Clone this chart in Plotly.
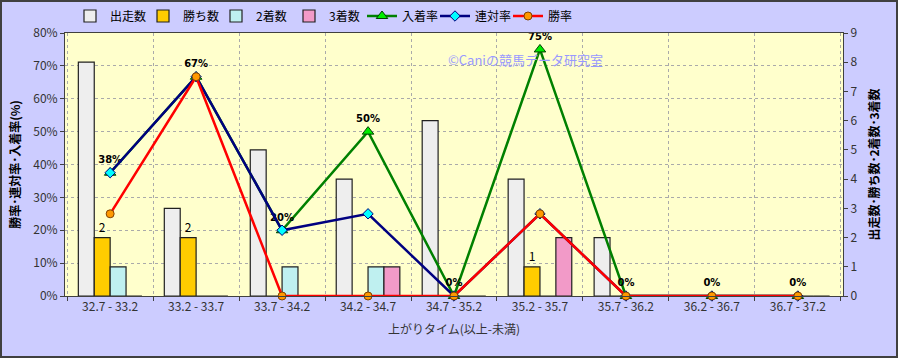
import plotly.graph_objects as go

categories = ["32.7 - 33.2", "33.2 - 33.7", "33.7 - 34.2", "34.2 - 34.7", "34.7 - 35.2",
              "35.2 - 35.7", "35.7 - 36.2", "36.2 - 36.7", "36.7 - 37.2"]
runs = [8, 3, 5, 4, 6, 4, 2, 0, 0]
wins = [2, 2, 0, 0, 0, 1, 0, 0, 0]
seconds = [1, 0, 1, 1, 0, 0, 0, 0, 0]
thirds = [0, 0, 0, 1, 0, 2, 0, 0, 0]
place_rate = [0.375, 0.667, 0.20, 0.50, 0.0, 0.75, 0.0, 0.0, 0.0]
quinella_rate = [0.375, 0.667, 0.20, 0.25, 0.0, 0.25, 0.0, 0.0, 0.0]
win_rate = [0.25, 0.667, 0.0, 0.0, 0.0, 0.25, 0.0, 0.0, 0.0]
place_labels = ["38%", "67%", "20%", "50%", "0%", "75%", "0%", "0%", "0%"]

FONT = "Noto Sans CJK JP"
W, H = 898, 358
L, R, T, B = 65, 55, 33, 62
pw, ph = W - L - R, H - T - B

fig = go.Figure()
bar_line = dict(color="#202020", width=1.2)
fig.add_trace(go.Bar(name="出走数", x=categories, y=runs, yaxis="y",
                     marker=dict(color="#EEEEEE", line=bar_line)))
fig.add_trace(go.Bar(name="勝ち数", x=categories, y=wins, yaxis="y",
                     marker=dict(color="#FFCC00", line=bar_line),
                     text=[str(v) if v else "" for v in wins], textposition="outside",
                     textfont=dict(size=12, color="#000000", family=FONT), cliponaxis=False))
fig.add_trace(go.Bar(name="2着数", x=categories, y=seconds, yaxis="y",
                     marker=dict(color="#BFF0F0", line=bar_line)))
fig.add_trace(go.Bar(name="3着数", x=categories, y=thirds, yaxis="y",
                     marker=dict(color="#F29AC8", line=bar_line)))

fig.add_trace(go.Scatter(name="入着率", x=categories, y=place_rate, yaxis="y2",
                         mode="lines+markers+text", text=place_labels, textposition="top center",
                         textfont=dict(size=10, color="#000000", family="DejaVu Sans", weight="bold"),
                         line=dict(color="#008000", width=2.5),
                         marker=dict(symbol="triangle-up", size=10, color="#00EE00",
                                     line=dict(color="#004000", width=1)),
                         cliponaxis=False))
fig.add_trace(go.Scatter(name="連対率", x=categories, y=quinella_rate, yaxis="y2",
                         mode="lines+markers",
                         line=dict(color="#000080", width=2.5),
                         marker=dict(symbol="diamond", size=8, color="#00FFFF",
                                     line=dict(color="#000080", width=1)),
                         cliponaxis=False))
fig.add_trace(go.Scatter(name="勝率", x=categories, y=win_rate, yaxis="y2",
                         mode="lines+markers",
                         line=dict(color="#FF0000", width=2.5),
                         marker=dict(symbol="circle", size=8, color="#FF9900",
                                     line=dict(color="#804000", width=1)),
                         cliponaxis=False))

fig.add_annotation(text="©Caniの競馬データ研究室", xref="paper", yref="paper",
                   x=(525 - L) / pw, y=1 - (48 - T) / ph, showarrow=False,
                   font=dict(size=13, color="#9999FF", family=FONT))

fig.add_shape(type="rect", xref="paper", yref="paper",
              x0=-(L - 1) / pw, x1=1 + (R - 1) / pw, y0=-(B - 1) / ph, y1=1 + (T - 1) / ph,
              line=dict(color="#404040", width=2))

fig.update_layout(
    width=W, height=H,
    margin=dict(l=L, r=R, t=T, b=B, autoexpand=False),
    paper_bgcolor="#CCCCFF", plot_bgcolor="#FFFFCC",
    font=dict(family=FONT, size=12, color="#333333"),
    barmode="group", bargap=0.26, bargroupgap=0,
    showlegend=True,
    legend=dict(orientation="h", x=(70 - L) / pw, y=1 + (T - 16) / ph, xanchor="left",
                yanchor="middle", bgcolor="rgba(0,0,0,0)", font=dict(size=12, color="#000000"),
                itemwidth=30, entrywidth=28, tracegroupgap=0),
    xaxis=dict(type="category", tickson="boundaries", showgrid=True, gridcolor="#AAAAAA",
               griddash="dot", gridwidth=1, showline=True, linecolor="#404040", mirror=True,
               ticks="outside", ticklen=4, tickcolor="#404040", automargin=False,
               tickfont=dict(size=12, color="#333333"),
               title=dict(text="上がりタイム(以上-未満)", font=dict(size=12, color="#333333"), standoff=12)),
    yaxis=dict(side="right", range=[0, 9], dtick=1, showgrid=False, zeroline=False, automargin=False,
               showline=True, linecolor="#404040", ticks="outside", ticklen=4, tickcolor="#404040",
               tickfont=dict(size=12, color="#333333"),
               title=dict(text="出走数･勝ち数･2着数･3着数", font=dict(size=12, color="#000000", weight="bold"), standoff=14)),
    yaxis2=dict(side="left", overlaying="y", range=[0, 0.8], dtick=0.1, tickformat=".0%", automargin=False,
                showgrid=True, gridcolor="#AAAAAA", griddash="dot", zeroline=False,
                showline=True, linecolor="#404040", ticks="outside", ticklen=4, tickcolor="#404040",
                tickfont=dict(size=12, color="#333333"),
                title=dict(text="勝率･連対率･入着率(%)", font=dict(size=12, color="#000000", weight="bold"), standoff=10)),
)

fig.write_html("out.html", config={"displayModeBar": False},
               post_script="document.body.style.margin='0';")
